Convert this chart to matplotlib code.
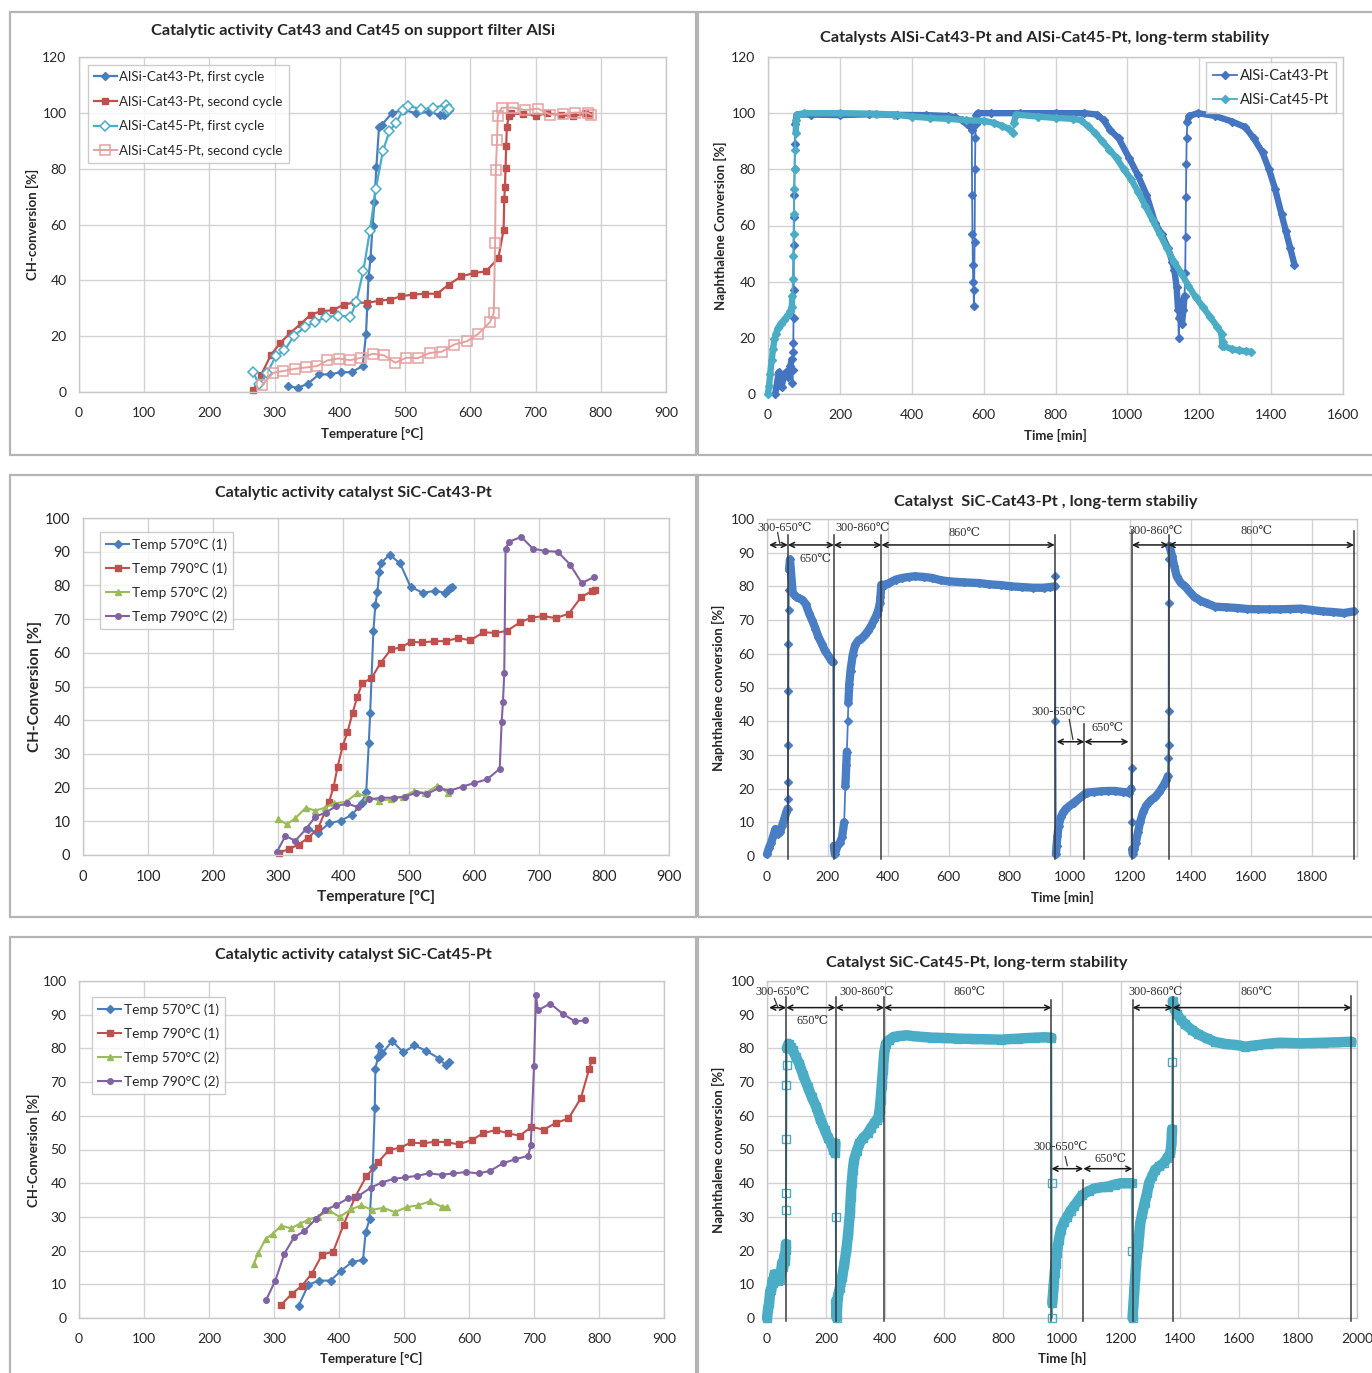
import matplotlib
matplotlib.use("Agg")
import numpy as np
import matplotlib.pyplot as plt
from matplotlib.patches import Rectangle

plt.rcParams['font.family'] = ['Lato', 'DejaVu Sans']

# ---------------- DATA ----------------
# Panel 1: AlSi support, temperature ramps
p1_43_first_T = [320, 336, 351, 368, 385, 401, 418, 435, 440, 442, 444, 447, 450, 453, 456, 460, 464, 480, 499, 517, 537, 553, 560, 564, 567]
p1_43_first_C = [2.1, 1.5, 3.0, 6.3, 6.3, 7.1, 7.1, 9.3, 20.8, 30.7, 41.2, 48.0, 59.3, 68.2, 80.7, 95.0, 95.6, 100.0, 101.0, 99.8, 100.4, 99.2, 99.2, 100.4, 101.0]
p1_43_second_T = [267, 279, 294, 308, 324, 340, 355, 371, 389, 406, 423, 442, 460, 477, 494, 512, 531, 549, 567, 586, 605, 624, 643, 651, 652, 653, 654, 655, 656, 659, 662, 680, 700, 718, 739, 758, 776, 782]
p1_43_second_C = [0.6, 6.0, 13.2, 17.4, 21.2, 24.4, 27.7, 28.9, 29.3, 31.3, 32.1, 31.9, 32.7, 33.1, 34.3, 34.9, 35.2, 35.2, 38.5, 41.4, 42.6, 43.2, 48.0, 58.1, 69.0, 73.3, 80.1, 88.1, 95.0, 98.8, 99.8, 99.5, 99.0, 99.8, 99.3, 98.7, 99.8, 99.2]
p1_45_first_T = [267, 276, 288, 302, 315, 330, 346, 362, 379, 397, 416, 425, 436, 446, 455, 466, 476, 486, 497, 505, 525, 543, 562, 564, 567]
p1_45_first_C = [7.1, 2.7, 6.7, 12.9, 14.9, 20.2, 23.2, 25.0, 26.9, 27.4, 26.9, 32.1, 43.5, 57.7, 72.7, 86.3, 93.5, 96.4, 101.0, 102.6, 101.2, 101.9, 102.7, 101.0, 101.5]
p1_45_second_T = [281, 298, 313, 331, 348, 365, 381, 398, 416, 433, 451, 468, 485, 502, 519, 538, 556, 575, 595, 612, 630, 636, 638, 639, 641, 642, 648, 665, 684, 704, 722, 742, 761, 780, 785]
p1_45_second_C = [2.5, 6.9, 7.5, 8.3, 8.8, 9.3, 11.3, 12.0, 11.4, 12.3, 13.7, 13.1, 10.5, 12.3, 12.1, 14.0, 14.4, 17.0, 18.2, 20.8, 25.0, 28.3, 53.3, 79.5, 90.2, 98.9, 101.8, 101.9, 101.0, 101.5, 99.4, 99.5, 100.1, 100.0, 99.4]
p1_labels = ["AlSi-Cat43-Pt, first cycle", "AlSi-Cat43-Pt, second cycle", "AlSi-Cat45-Pt, first cycle", "AlSi-Cat45-Pt, second cycle"]

# Panel 2: AlSi long-term (time [min], conversion [%])
p2_cat43 = [(20, 0), (30, 7.7), (38, 2.4), (44, 6.5), (50, 7.7), (56, 5.9), (62, 10), (66, 12.3), (68, 4), (69, 8.6),
            (70, 15), (70.5, 18), (71, 27), (71.5, 37), (72, 53), (72.5, 63), (73, 71), (74, 80), (75, 89), (76, 96),
            (80, 99.5), (120, 99.5), (200, 99.3), (280, 99.6), (360, 99.4), (440, 99.3), (500, 99), (520, 98.5),
            (540, 97.5), (555, 96), (565, 95), (567, 94), (568, 71), (569, 57), (570, 46), (571, 40), (572, 37),
            (573, 31.5), (575, 54), (576, 80), (577, 91), (578, 96), (580, 99.5), (583, 100), (620, 100), (700, 100),
            (800, 100), (880, 100), (916, 99.5), (934, 97.5), (952, 94), (976, 91), (1005, 84), (1029, 78), (1053, 71),
            (1077, 61), (1095, 57), (1113, 52), (1125, 47), (1131, 44), (1137, 38), (1141, 30), (1143, 20), (1145, 27),
            (1148, 33), (1152, 25), (1156, 30), (1159, 35), (1161, 43), (1162, 56), (1163, 70), (1164, 82), (1165, 91),
            (1167, 97), (1172, 99), (1196, 100), (1244, 99), (1292, 97), (1328, 95), (1352, 91), (1376, 86), (1394, 80),
            (1411, 73), (1429, 64), (1441, 58), (1453, 52), (1465, 46)]
p2_cat45 = [(0, 0), (3, 3), (6, 7), (10, 12), (14, 16), (18, 19.5), (22, 21.5), (28, 23.5), (35, 25), (45, 26.5),
            (55, 28), (62, 29.5), (66, 31), (68, 35), (69, 41), (70, 49), (71, 57), (72, 64), (73, 73), (74, 80),
            (75, 87), (77, 93), (79, 97.5), (82, 99.5), (100, 100), (200, 100), (300, 99.8), (350, 99.5), (400, 98.8),
            (450, 98.3), (500, 98), (550, 97.5), (600, 97.3), (630, 96.5), (650, 95.5), (670, 94.5), (683, 93),
            (684, 96.5), (690, 99.5), (750, 98.8), (800, 98.3), (850, 98), (870, 97.5), (890, 95.5), (910, 93),
            (930, 90), (950, 87), (970, 84), (990, 80), (1010, 76.5), (1030, 72), (1050, 67), (1070, 62), (1090, 57),
            (1110, 52), (1130, 47), (1150, 43), (1170, 38.5), (1190, 34.5), (1210, 31), (1230, 27.5), (1250, 24),
            (1262, 21.5), (1264, 17), (1266, 18.5), (1270, 17), (1290, 16), (1310, 15.5), (1330, 15.2), (1345, 15)]
p2_labels = ["AlSi-Cat43-Pt", "AlSi-Cat45-Pt"]

# Panel 3: SiC-Cat43-Pt
p3_570a_T = [346, 361, 378, 396, 413, 428, 435, 439, 441, 446, 449, 452, 455, 457, 471, 487, 503, 522, 541, 556, 561, 564, 566]
p3_570a_C = [7.6, 6.6, 9.4, 10.2, 11.9, 15.3, 18.8, 33.3, 42.0, 66.5, 74.2, 78.0, 83.9, 86.5, 89.1, 86.5, 79.6, 77.8, 78.4, 77.8, 78.6, 79.1, 79.6]
p3_790a_T = [301, 316, 331, 346, 361, 378, 385, 391, 399, 406, 414, 421, 429, 443, 457, 473, 488, 503, 521, 539, 558, 576, 595, 615, 633, 651, 671, 688, 707, 726, 746, 765, 782, 786]
p3_790a_C = [0.7, 1.7, 3.1, 5.1, 7.9, 15.8, 20.3, 26.2, 32.4, 36.4, 42.1, 46.8, 51.1, 52.4, 57.0, 61.0, 61.6, 63.2, 63.1, 63.4, 63.5, 64.4, 63.7, 66.1, 65.9, 66.5, 69.0, 70.4, 70.9, 70.3, 71.6, 76.5, 78.4, 78.6]
p3_570b_T = [300, 313, 326, 342, 357, 371, 385, 404, 421, 436, 455, 473, 491, 509, 526, 544, 560]
p3_570b_C = [10.6, 9.1, 10.9, 14.0, 13.2, 14.0, 15.3, 15.8, 18.3, 17.3, 16.1, 16.5, 17.3, 19.0, 18.4, 20.5, 18.5]
p3_790b_T = [298, 311, 326, 342, 357, 373, 389, 406, 423, 440, 458, 477, 494, 512, 529, 546, 564, 583, 600, 621, 640, 643, 645, 647, 649, 654, 673, 691, 710, 729, 748, 766, 785]
p3_790b_C = [1.0, 5.7, 4.2, 7.6, 11.4, 12.6, 14.5, 15.3, 14.1, 16.5, 17.0, 17.0, 17.3, 18.5, 18.2, 19.8, 19.1, 20.3, 21.3, 22.5, 25.6, 39.6, 45.5, 54.0, 90.7, 92.9, 94.4, 90.9, 90.2, 90.0, 86.2, 80.7, 82.5]
p35_labels = ["Temp 570°C (1)", "Temp 790°C (1)", "Temp 570°C (2)", "Temp 790°C (2)"]

# Panel 4: SiC-Cat43-Pt long-term (time [min], conversion [%])
p4_cat43 = [(0, 0.5), (7, 2.5), (14, 4), (21, 6), (28, 8), (35, 6.5), (43, 7), (50, 9), (57, 11), (64, 13), (68, 14),
            (69, 17), (69.5, 22), (70, 33), (70.5, 49), (71, 63), (71.5, 73), (72, 79), (73, 85), (76, 88), (85, 78),
            (95, 77), (106, 76.5), (117, 76), (128, 74.8), (139, 72), (149, 70), (160, 67.5), (170, 65), (181, 63),
            (191, 61), (202, 59.5), (213, 58), (219, 57.5), (221, 3), (224, 0.5), (233, 3), (241, 4), (248, 5.5),
            (255, 10), (259, 20.7), (262, 27), (264, 31), (267, 40), (269, 45.5), (272, 51), (276, 55), (283, 59.5),
            (291, 62.5), (302, 64), (312, 64.5), (323, 65.5), (333, 66.7), (344, 68.2), (354, 70), (362, 71.5),
            (368, 73), (373, 75), (375, 77), (378, 80.5), (390, 80.5), (404, 81), (425, 82), (447, 82.5), (468, 82.8),
            (489, 83), (520, 82.8), (546, 82.5), (575, 81.8), (602, 81.5), (650, 81.2), (701, 81), (735, 80.6),
            (772, 80.4), (808, 80), (843, 79.8), (880, 79.6), (914, 79.6), (935, 79.8), (951, 80), (952, 83),
            (953, 40), (955, 0.5), (957, 3), (960, 6), (964, 9), (971, 11.5), (978, 12.8), (988, 14), (999, 14.8),
            (1014, 15.8), (1028, 16.8), (1042, 17.8), (1056, 18.8), (1080, 19), (1104, 19.2), (1127, 19.3),
            (1150, 19.3), (1175, 19), (1198, 18.8), (1204, 20), (1205, 26), (1206, 10), (1207, 2), (1209, 0.5),
            (1214, 2), (1219, 4), (1226, 7), (1233, 10), (1243, 13), (1254, 15), (1268, 16.5), (1283, 17.5),
            (1297, 19), (1311, 21), (1320, 22.5), (1325, 23.7), (1326, 29), (1327, 33), (1327.5, 43), (1328, 75),
            (1329, 88), (1330, 92), (1339, 89), (1346, 86), (1354, 83), (1368, 81), (1382, 80), (1396, 78.5),
            (1411, 77), (1432, 75.8), (1453, 75), (1481, 74), (1516, 73.8), (1552, 73.6), (1587, 73.3), (1623, 73.2),
            (1658, 73.2), (1694, 73.2), (1730, 73.3), (1765, 73.4), (1800, 73), (1836, 72.6), (1870, 72.4),
            (1906, 72.1), (1940, 72.6)]

# Panel 5: SiC-Cat45-Pt
p5_570a_T = [338, 353, 369, 387, 403, 420, 437, 441, 447, 452, 455, 456, 460, 462, 466, 482, 499, 516, 534, 554, 564, 569]
p5_570a_C = [3.7, 9.9, 11.1, 11.1, 14.0, 16.6, 17.3, 25.4, 29.3, 44.7, 62.2, 74.0, 77.5, 80.7, 78.5, 82.2, 78.8, 80.9, 79.3, 77.0, 75.0, 75.9]
p5_790a_T = [311, 327, 343, 358, 374, 391, 407, 425, 442, 460, 477, 494, 511, 529, 547, 566, 584, 604, 622, 641, 660, 678, 696, 715, 734, 753, 772, 785, 789]
p5_790a_C = [3.9, 7.1, 9.6, 13.1, 18.8, 19.7, 27.6, 36.0, 42.0, 46.2, 49.9, 50.5, 52.1, 51.8, 52.3, 52.2, 51.5, 52.8, 54.8, 55.8, 54.8, 54.1, 56.7, 55.9, 57.9, 59.2, 65.2, 74.0, 76.5]
p5_570b_T = [269, 276, 287, 298, 311, 326, 340, 353, 367, 385, 401, 418, 434, 451, 468, 486, 504, 521, 540, 558, 566]
p5_570b_C = [16.1, 19.4, 23.4, 25.0, 27.4, 26.6, 28.0, 29.2, 30.0, 31.9, 30.0, 32.2, 33.4, 32.1, 32.7, 31.4, 32.9, 33.4, 34.6, 33.0, 33.0]
p5_790b_T = [288, 302, 316, 331, 346, 364, 379, 396, 414, 429, 449, 466, 484, 501, 520, 538, 558, 576, 595, 615, 633, 652, 671, 691, 695, 700, 703, 706, 725, 744, 763, 778]
p5_790b_C = [5.4, 11.1, 19.1, 24.0, 25.7, 29.3, 32.1, 33.5, 35.5, 36.1, 38.7, 40.2, 41.3, 41.7, 42.2, 42.9, 42.5, 42.9, 43.3, 42.9, 43.7, 45.9, 47.1, 48.1, 51.3, 74.7, 95.7, 91.3, 93.3, 90.3, 88.0, 88.3]

# Panel 6: SiC-Cat45-Pt long-term (time [h], conversion [%])
p6_cat45 = [(0, 0), (4, 3), (7, 4.4), (11, 8), (15, 8.4), (18, 11), (22, 10.4), (25, 13), (29, 12.3), (36, 11),
            (44, 11.4), (48, 14), (51, 16.3), (55, 15), (58, 18.3), (61, 17), (63, 20.2), (64, 22), (64.5, 32),
            (65, 37), (65.5, 53), (66, 69), (66.5, 75), (67, 80), (73, 81.4), (80, 80.5), (87, 79.4), (98, 77.5),
            (109, 75.5), (123, 72), (138, 68.6), (152, 65.5), (167, 62.7), (181, 59), (196, 55.8), (207, 53.5),
            (218, 51.8), (225, 50), (230, 48.9), (232, 51.8), (233, 30), (234, 5), (236, 0), (240, 6.4), (247, 9),
            (255, 12.3), (262, 16), (269, 20.2), (275, 25), (281, 31.1), (284, 36), (287, 40), (291, 44), (295, 46.9),
            (304, 49.5), (313, 51.8), (327, 53.5), (342, 54.8), (353, 56.5), (364, 57.8), (372, 58.8), (378, 59.7),
            (382, 62), (385, 64.7), (389, 69), (393, 73.6), (397, 78.5), (403, 81.4), (415, 82.5), (429, 83.4),
            (450, 83.7), (473, 83.9), (500, 83.6), (531, 83.4), (560, 83.2), (600, 83.1), (647, 82.9), (700, 82.8),
            (750, 82.7), (793, 82.6), (850, 82.9), (909, 83.2), (940, 83.3), (964, 83.2), (965, 40), (966, 0),
            (967, 4.4), (971, 9), (975, 13.3), (978, 16), (982, 19.2), (989, 23), (996, 26.2), (1007, 28.5),
            (1018, 30.1), (1029, 31.8), (1040, 33.1), (1054, 34.8), (1069, 36.5), (1091, 37.7), (1113, 38.5),
            (1134, 38.8), (1156, 39), (1178, 39.6), (1200, 40), (1218, 40), (1236, 40), (1238, 20), (1239, 0),
            (1242, 4), (1245, 8), (1248, 12.3), (1251, 16), (1254, 19), (1258, 21.2), (1262, 25), (1265, 28.1),
            (1272, 31), (1280, 34.1), (1288, 37), (1295, 40), (1305, 42), (1316, 44), (1330, 45), (1345, 46),
            (1357, 47.5), (1367, 48.9), (1371, 51.8), (1373, 56), (1374, 76), (1375, 94), (1380, 92), (1389, 90.3),
            (1403, 88.5), (1418, 87.1), (1440, 85.5), (1462, 84.2), (1490, 83), (1520, 81.9), (1556, 81.3),
            (1593, 81), (1622, 80.5), (1645, 80.8), (1665, 81), (1700, 81.4), (1738, 81.7), (1775, 81.6),
            (1811, 81.5), (1850, 81.6), (1884, 81.7), (1930, 81.8), (1981, 82)]

# ---------------- FIGURE ----------------
W, H = 1372, 1373
fig = plt.figure(figsize=(W / 100, H / 100), dpi=100)
fig.patch.set_facecolor('white')

BLUE = '#4a7ebb'
RED = '#c0504d'
GREEN = '#9bbb59'
PURPLE = '#8064a2'
CYAN = '#4bacc6'
PINK = '#e5a0a0'
TXT = '#262626'
SERIF = ['Liberation Serif', 'DejaVu Serif', 'DejaVu Sans']


def fx(x):
    return x / W


def fy(y):
    return 1 - y / H


# panel frames
for (x0, y0, x1, y1) in [(10, 12, 696, 455), (698, 12, 1400, 455), (10, 475, 696, 917),
                         (698, 475, 1400, 917), (10, 937, 696, 1400), (698, 937, 1400, 1400)]:
    fig.patches.append(Rectangle((fx(x0), fy(y1)), (x1 - x0) / W, (y1 - y0) / H, transform=fig.transFigure,
                                 fill=False, edgecolor='#b4b4b4', lw=1.6))


def make_ax(x0, x1, y0, y1, xlim, xticks, ylim, yticks, fs=10):
    ax = fig.add_axes([fx(x0), fy(y1), (x1 - x0) / W, (y1 - y0) / H])
    ax.set_xlim(xlim)
    ax.set_ylim(ylim)
    ax.set_xticks(xticks)
    ax.set_yticks(yticks)
    ax.grid(True, color='#d2d2d2', lw=1.0)
    ax.set_axisbelow(True)
    for s in ax.spines.values():
        s.set_color('#c8c8c8')
        s.set_linewidth(1.0)
    ax.tick_params(length=0, labelsize=fs, colors=TXT)
    ax.tick_params(axis='y', pad=9)
    ax.tick_params(axis='x', pad=11)
    return ax


def ftext(x, y, s, size, bold=True, rot=0):
    fig.text(fx(x), fy(y), s, ha='center', va='center', fontsize=size,
             fontweight='bold' if bold else 'normal', rotation=rot, color=TXT)


def legend(ax, loc, anchor, fs, spacing):
    lg = ax.legend(loc=loc, bbox_to_anchor=anchor, borderaxespad=0, fontsize=fs, frameon=True, fancybox=False,
                   edgecolor='#c0c0c0', handlelength=1.7, handletextpad=0.2, labelspacing=spacing, borderpad=0.45,
                   numpoints=1)
    lg.get_frame().set_linewidth(1.0)
    for t in lg.get_texts():
        t.set_color(TXT)
    return lg


def dense_series(ax, pairs, color, band_lw, steep, marker, ms, mfc, label=None):
    """Thick band for slowly varying parts, thin line with markers through every point."""
    t = np.array([p[0] for p in pairs], dtype=float)
    c = np.array([p[1] for p in pairs], dtype=float)
    bt, bc = [t[0]], [c[0]]
    for i in range(1, len(t)):
        if abs(c[i] - c[i - 1]) / max(t[i] - t[i - 1], 1e-6) > steep:
            bt.append(np.nan)
            bc.append(np.nan)
        bt.append(t[i])
        bc.append(c[i])
    ax.plot(bt, bc, color=color, lw=band_lw, solid_capstyle='round', solid_joinstyle='round',
            clip_on=False, zorder=3)
    ax.plot(t, c, color=color, lw=1.3, marker=marker, ms=ms, mfc=mfc, mec=color, mew=1.0,
            clip_on=False, zorder=3, label=label)


# ---- Panel 1 ----
ax1 = make_ax(79, 666, 57, 392, (0, 900), range(0, 901, 100), (0, 120), range(0, 121, 20))
ax1.plot(p1_43_first_T, p1_43_first_C, color=BLUE, lw=1.6, marker='D', ms=4, label=p1_labels[0], clip_on=False)
ax1.plot(p1_43_second_T, p1_43_second_C, color=RED, lw=1.6, marker='s', ms=5, label=p1_labels[1], clip_on=False)
ax1.plot(p1_45_first_T, p1_45_first_C, color=CYAN, lw=1.6, marker='D', ms=5, mfc='white', mew=1.1,
         label=p1_labels[2], clip_on=False)
ax1.plot(p1_45_second_T, p1_45_second_C, color=PINK, lw=1.4, marker='s', ms=6.5, mfc='none', mew=1.1,
         label=p1_labels[3], clip_on=False)
legend(ax1, 'upper left', (0.0153, 0.976), 9.6, 0.95)
ftext(353, 31, "Catalytic activity Cat43 and Cat45 on support filter AlSi", 11.8)
ftext(372, 433, "Temperature [°C]", 9.5)
ftext(32, 224, "CH-conversion [%]", 9.5, rot=90)

# ---- Panel 2 ----
ax2 = make_ax(768, 1343, 57, 394, (0, 1600), range(0, 1601, 200), (0, 120), range(0, 121, 20))
dense_series(ax2, p2_cat43, '#4574c0', 4.6, 2.5, 'D', 4, '#4574c0', p2_labels[0])
dense_series(ax2, p2_cat45, CYAN, 4.6, 2.5, 'D', 4, CYAN, p2_labels[1])
lg2 = legend(ax2, 'upper right', (0.988, 0.985), 10.5, 0.7)
ftext(1045, 38, "Catalysts AlSi-Cat43-Pt and AlSi-Cat45-Pt, long-term stability", 11.8)
ftext(1055, 435, "Time [min]", 9.5)
ftext(720, 226, "Naphthalene Conversion [%]", 9.5, rot=90)

# ---- Panel 3 ----
ax3 = make_ax(83, 669, 518, 855, (0, 900), range(0, 901, 100), (0, 100), range(0, 101, 10), fs=10.5)
ax3.plot(p3_570a_T, p3_570a_C, color=BLUE, lw=1.5, marker='D', ms=4, label=p35_labels[0], clip_on=False)
ax3.plot(p3_790a_T, p3_790a_C, color=RED, lw=1.5, marker='s', ms=4, label=p35_labels[1], clip_on=False)
ax3.plot(p3_570b_T, p3_570b_C, color=GREEN, lw=1.5, marker='^', ms=4.5, label=p35_labels[2], clip_on=False)
ax3.plot(p3_790b_T, p3_790b_C, color=PURPLE, lw=1.5, marker='o', ms=4, label=p35_labels[3], clip_on=False)
legend(ax3, 'upper left', (0.029, 0.958), 9.8, 0.85)
ftext(353, 493, "Catalytic activity catalyst SiC-Cat43-Pt", 11.5)
ftext(376, 897, "Temperature [°C]", 11)
ftext(35, 687, "CH-Conversion [%]", 11, rot=90)

# ---- Panel 4 ----
ax4 = make_ax(767, 1357, 519, 856, (0, 1950), range(0, 1801, 200), (0, 100), range(0, 101, 10))
dense_series(ax4, p4_cat43, '#4a7ec4', 6.0, 2.6, 'D', 4.2, '#4a7ec4')
ftext(1046, 502, "Catalyst  SiC-Cat43-Pt , long-term stabiliy", 11.8)
ftext(1062, 897, "Time [min]", 9.5)
ftext(718, 688, "Naphthalene conversion [%]", 9.5, rot=90)

# ---- Panel 5 ----
ax5 = make_ax(79, 664, 981, 1318, (0, 900), range(0, 901, 100), (0, 100), range(0, 101, 10))
ax5.plot(p5_570a_T, p5_570a_C, color=BLUE, lw=1.5, marker='D', ms=4, label=p35_labels[0], clip_on=False)
ax5.plot(p5_790a_T, p5_790a_C, color=RED, lw=1.5, marker='s', ms=4, label=p35_labels[1], clip_on=False)
ax5.plot(p5_570b_T, p5_570b_C, color=GREEN, lw=1.5, marker='^', ms=4.5, label=p35_labels[2], clip_on=False)
ax5.plot(p5_790b_T, p5_790b_C, color=PURPLE, lw=1.5, marker='o', ms=4, label=p35_labels[3], clip_on=False)
legend(ax5, 'upper left', (0.022, 0.953), 9.8, 0.85)
ftext(353, 955, "Catalytic activity catalyst SiC-Cat45-Pt", 11.5)
ftext(371, 1358, "Temperature [°C]", 9.5)
ftext(33, 1150, "CH-Conversion [%]", 9.5, rot=90)

# ---- Panel 6 ----
ax6 = make_ax(767, 1357, 981, 1318, (0, 2000), range(0, 2001, 200), (0, 100), range(0, 101, 10))
dense_series(ax6, p6_cat45, CYAN, 7.5, 2.6, 's', 5.5, 'none')
ftext(977, 963, "Catalyst SiC-Cat45-Pt, long-term stability", 11.8)
ftext(1062, 1358, "Time [h]", 9.5)
ftext(718, 1150, "Naphthalene conversion [%]", 9.5, rot=90)


# ---- annotations for long-term panels ----
def vline(ax, t, top):
    ax.plot([t, t], [-1, top], color='#3a3a3a', lw=1.1, clip_on=False, zorder=5)


def darrow(ax, t0, t1, y):
    ax.annotate('', xy=(t1, y), xytext=(t0, y),
                arrowprops=dict(arrowstyle='<->', color='#1a1a1a', lw=1.1, shrinkA=0, shrinkB=0,
                                mutation_scale=9), annotation_clip=False, zorder=6)


def alab(ax, t, y, s):
    ax.text(t, y, s, ha='center', va='center', fontsize=8.8, family=SERIF, color='#303030', zorder=6)


def leader(ax, t0, y0, t1, y1):
    ax.plot([t0, t1], [y0, y1], color='#3a3a3a', lw=0.9, clip_on=False, zorder=6)


for t, top in [(69, 95.4), (221, 95.4), (378, 95.4), (951, 95.4), (1049, 39.3), (1206, 96.5), (1327, 95.4), (1940, 96.5)]:
    vline(ax4, t, top)
for t0, t1, y in [(7, 69, 92.3), (69, 221, 92.3), (221, 378, 92.3), (378, 951, 92.3), (1206, 1327, 92.3),
                  (1327, 1940, 92.3), (957, 1049, 33.9), (1049, 1195, 33.9)]:
    darrow(ax4, t0, t1, y)
for t, y, s in [(60, 97.3, "300-650℃"), (160, 88, "650℃"), (316, 97.3, "300-860℃"), (652, 95.8, "860℃"),
                (1286, 96.5, "300-860℃"), (1619, 96.5, "860℃"), (964, 42.7, "300-650℃"), (1127, 37.9, "650℃")]:
    alab(ax4, t, y, s)
leader(ax4, 35, 96, 42, 92.8)
leader(ax4, 999, 40.5, 1011, 34.6)

for t, top in [(65, 95.3), (233, 95.3), (397, 95.3), (964, 94.3), (1072, 41), (1239, 94.3), (1375, 95.3), (1981, 95.6)]:
    vline(ax6, t, top)
for t0, t1, y in [(7, 65, 92.1), (65, 233, 92.1), (233, 397, 92.1), (397, 964, 92.1), (1239, 1375, 92.1),
                  (1375, 1981, 92.1), (964, 1072, 44.3), (1072, 1239, 44.3)]:
    darrow(ax6, t0, t1, y)
for t, y, s in [(54, 96.6, "300-650℃"), (156, 88, "650℃"), (337, 96.6, "300-860℃"), (688, 96.6, "860℃"),
                (1319, 96.6, "300-860℃"), (1661, 96.6, "860℃"), (996, 50.7, "300-650℃"), (1164, 47.2, "650℃")]:
    alab(ax6, t, y, s)
leader(ax6, 25, 94.8, 36, 92.4)
leader(ax6, 1011, 47.9, 1018, 45.2)

fig.savefig("out.png", dpi=100, facecolor='white')
